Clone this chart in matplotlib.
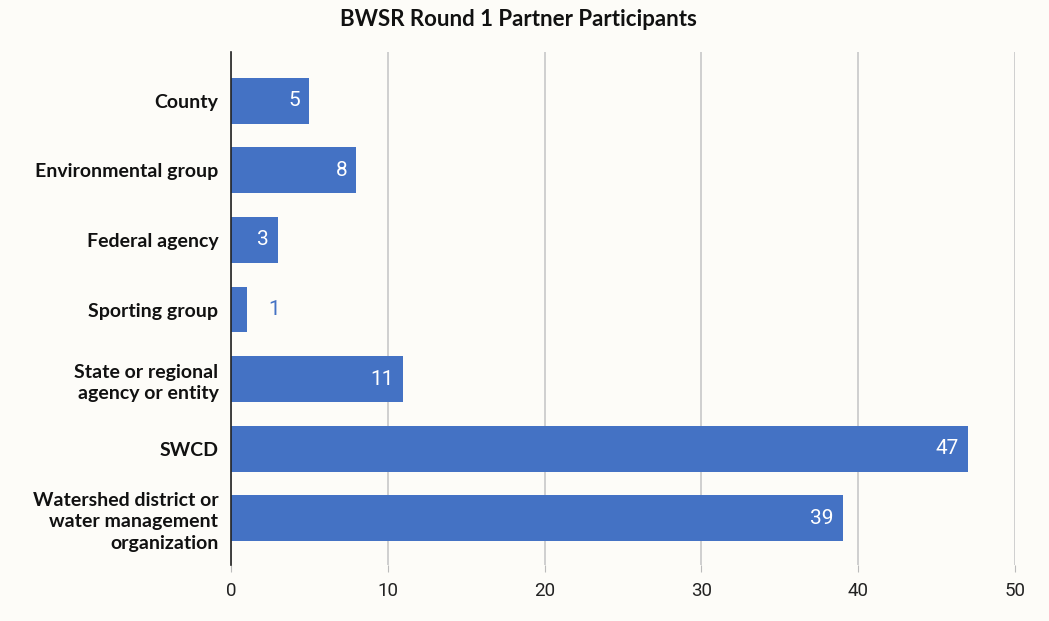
import matplotlib.pyplot as plt

categories = ['County', 'Environmental group', 'Federal agency', 'Sporting group',
              'State or regional\nagency or entity', 'SWCD',
              'Watershed district or\nwater management\norganization']
counts = [5, 8, 3, 1, 11, 47, 39]
xticks = [0, 10, 20, 30, 40, 50]

bg = '#fdfcf8'
blue = '#4472c4'

fig = plt.figure(figsize=(10.49, 6.21), dpi=100, facecolor=bg)
ax = fig.add_axes([0.2202, 0.0902, 0.7474, 0.8261])
ax.set_facecolor(bg)

ypos = list(range(len(categories)))
ax.barh(ypos, counts, height=0.66, color=blue, zorder=3)

for y, v in zip(ypos, counts):
    if v >= 3:
        ax.text(v - 0.6, y, str(v), ha='right', va='center', color='white',
                fontsize=15, family='Roboto', zorder=4)
    else:
        ax.text(v + 1.4, y, str(v), ha='left', va='center', color=blue,
                fontsize=15, family='Roboto', zorder=4)

ax.set_xlim(0, 50)
ax.set_ylim(6.67, -0.7)
ax.set_xticks(xticks)
ax.set_xticklabels([str(t) for t in xticks], family='Roboto', fontsize=13.5, color='#222222')
ax.set_yticks(ypos)
ax.set_yticklabels(categories, family='Lato', fontweight='bold', fontsize=14,
                   color='#111111', linespacing=1.3)
ax.tick_params(axis='y', length=0, pad=9)
ax.tick_params(axis='x', length=5, color='#bbbbbb', pad=7)
ax.grid(axis='x', color='#c8c8c8', linewidth=1.2, zorder=0)
for s in ['top', 'right', 'bottom']:
    ax.spines[s].set_visible(False)
ax.spines['left'].set_color('#222222')
ax.spines['left'].set_linewidth(1.2)
ax.spines['left'].set_zorder(5)

fig.text(0.494, 0.968, 'BWSR Round 1 Partner Participants', ha='center', va='center',
         family='Lato', fontweight='bold', fontsize=16, color='#111111')

fig.savefig('out.png', dpi=100, facecolor=bg)
